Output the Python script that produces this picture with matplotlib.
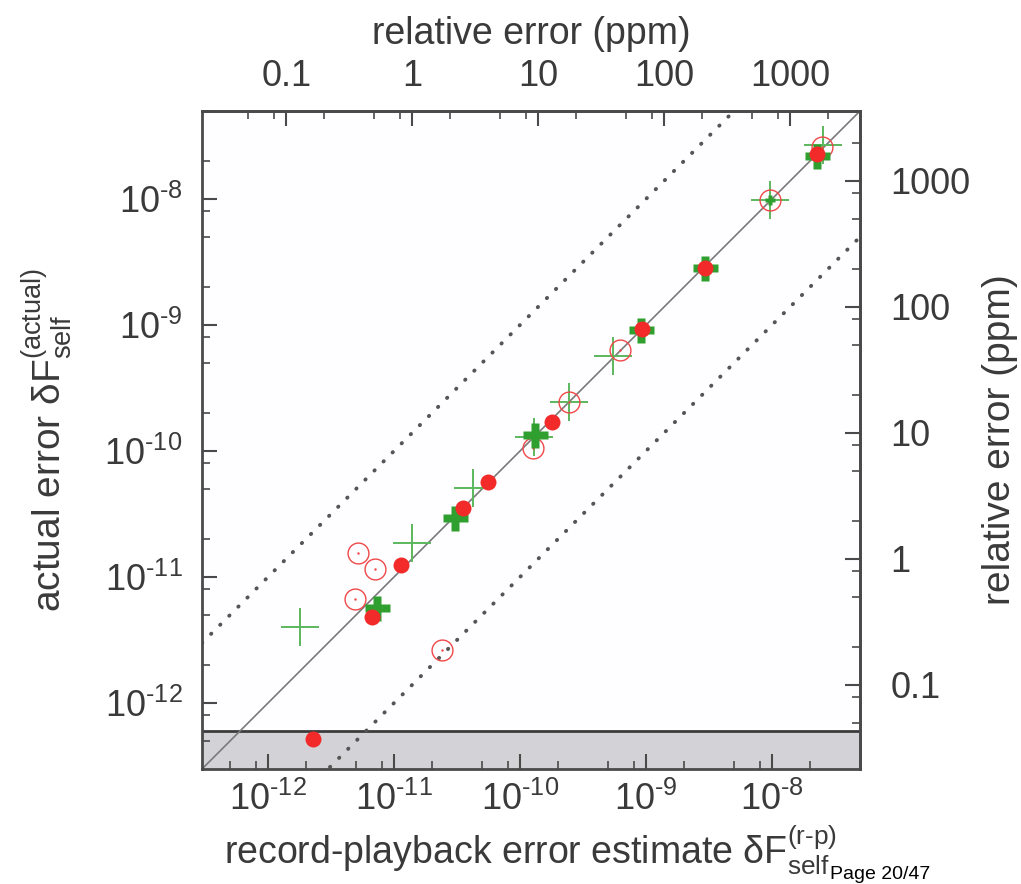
import numpy as np
import matplotlib
matplotlib.use('Agg')
import matplotlib.pyplot as plt
from matplotlib.ticker import LogLocator, NullFormatter, FixedLocator

plt.rcParams['font.family'] = ['Liberation Sans', 'DejaVu Sans']
plt.rcParams['mathtext.fontset'] = 'custom'
plt.rcParams['mathtext.rm'] = 'Liberation Sans'
plt.rcParams['mathtext.it'] = 'Liberation Sans'
plt.rcParams['mathtext.default'] = 'regular'

# estimate vs actual error
red_dot_x = [2.28e-12, 6.7e-12, 1.14e-11, 3.53e-11, 5.58e-11, 1.8e-10, 9.3e-10, 2.94e-9, 2.28e-8]
red_dot_y = [5.19e-13, 4.82e-12, 1.25e-11, 3.53e-11, 5.69e-11, 1.7e-10, 9.3e-10, 2.84e-9, 2.28e-8]

green_thick_x = [7.35e-12, 3.05e-11, 1.32e-10, 9.1e-10, 2.94e-9, 2.28e-8]
green_thick_y = [5.69e-12, 2.94e-11, 1.34e-10, 9.1e-10, 2.84e-9, 2.2e-8]

green_small_x = [9.66e-9]
green_small_y = [9.84e-9]

red_ring_x = [5.19e-12, 7.08e-12, 4.91e-12, 2.41e-11, 1.27e-10, 2.45e-10, 6.22e-10, 9.66e-9, 2.5e-8]
red_ring_y = [1.55e-11, 1.16e-11, 6.7e-12, 2.64e-12, 1.06e-10, 2.45e-10, 6.34e-10, 9.84e-9, 2.6e-8]

green_thin_x = [1.8e-12, 1.39e-11, 4.25e-11, 1.3e-10, 2.45e-10, 5.48e-10, 9.66e-9, 2.55e-8]
green_thin_y = [4.02e-12, 1.87e-11, 5.09e-11, 1.3e-10, 2.45e-10, 5.69e-10, 9.84e-9, 2.69e-8]

lim = [3e-13, 5e-8]
floor = 6e-13          # shaded region below this
F_ref = 1.4e-5         # converts absolute error to relative (ppm)
ppm_ticks = [0.1, 1, 10, 100, 1000]
ppm_labels = ['0.1', '1', '10', '100', '1000']
dec_ticks = [1e-12, 1e-11, 1e-10, 1e-9, 1e-8]
dec_labels = [r'$10^{\text{-}12}$', r'$10^{\text{-}11}$', r'$10^{\text{-}10}$',
              r'$10^{\text{-}9}$', r'$10^{\text{-}8}$']

txt = '#3a3a3a'
axc = '#4a4a4a'

fig = plt.figure(figsize=(10.21, 8.84), dpi=100)
ax = fig.add_axes([202 / 1021, 115 / 884, 658 / 1021, 658 / 884])
ax.set_facecolor('#fefdff')
ax.set_xscale('log')
ax.set_yscale('log')
ax.set_xlim(lim)
ax.set_ylim(lim)

ax.axhspan(lim[0], floor, color='#d3d3d7', zorder=0)
ax.axhline(floor, color='#3c3c3c', lw=2, zorder=1)

xx = np.array(lim)
ax.plot(xx, xx, color='#7a7a7a', lw=1.2, zorder=2)
for k in (10.0, 0.1):
    ax.plot(xx, xx * k, color='#555555', lw=2.8, linestyle=(0, (0.1, 3.2)),
            dash_capstyle='round', zorder=2)

ax.plot(green_thin_x, green_thin_y, '+', ms=28, mew=1.4, color='#5cb85c', zorder=3)
ax.plot(red_ring_x, red_ring_y, 'o', ms=15, mfc='none', mec='#f04848', mew=1.0, zorder=4)
ax.plot(red_ring_x, red_ring_y, '.', ms=1.5, color='#f04848', zorder=4)
ax.plot(green_thick_x, green_thick_y, 'P', ms=18, color='#2fa02f', mec='none', zorder=5)
ax.plot(green_small_x, green_small_y, 'P', ms=7, color='#2fa02f', mec='none', zorder=5)
ax.plot(red_dot_x, red_dot_y, 'o', ms=11.5, color='#f22a2a', mec='none', zorder=6)

for sp in ax.spines.values():
    sp.set_color(axc)
    sp.set_linewidth(2)

ax.xaxis.set_major_locator(FixedLocator(dec_ticks))
ax.yaxis.set_major_locator(FixedLocator(dec_ticks))
ax.set_xticklabels(dec_labels)
ax.set_yticklabels(dec_labels)
for a in (ax.xaxis, ax.yaxis):
    a.set_minor_locator(LogLocator(base=10, subs=[2, 5, 8]))
    a.set_minor_formatter(NullFormatter())
ax.tick_params(which='both', direction='in', top=False, right=False, colors=axc,
               labelcolor=txt, labelsize=26)
ax.tick_params(which='major', length=11, width=1.5)
ax.tick_params(which='minor', length=6, width=1.2)
ax.tick_params(axis='x', pad=9)
ax.tick_params(axis='y', pad=14)

ax.set_xlabel(r'record-playback error estimate $\delta F_{self}^{(r\text{-}p)}$',
              fontsize=27, color=txt, labelpad=4)
ax.set_ylabel(r'actual error $\delta F_{self}^{(actual)}$',
              fontsize=28, color=txt, labelpad=22)


def to_ppm(v):
    return v / F_ref * 1e6


def from_ppm(v):
    return v * F_ref / 1e6


secx = ax.secondary_xaxis('top', functions=(to_ppm, from_ppm))
secy = ax.secondary_yaxis('right', functions=(to_ppm, from_ppm))
for s, a in ((secx, secx.xaxis), (secy, secy.yaxis)):
    a.set_major_locator(FixedLocator(ppm_ticks))
    a.set_minor_locator(LogLocator(base=10, subs=[2, 5, 8]))
    a.set_minor_formatter(NullFormatter())
    s.tick_params(which='both', direction='in', colors=axc, labelcolor=txt, labelsize=26)
    s.tick_params(which='major', length=11, width=1.5)
    s.tick_params(which='minor', length=6, width=1.2)
    for sp in s.spines.values():
        sp.set_color(axc)
        sp.set_linewidth(2)
secx.set_xticklabels(ppm_labels)
secy.set_yticklabels(ppm_labels)
secx.tick_params(pad=12)
secy.tick_params(pad=22)
secx.set_xlabel('relative error (ppm)', fontsize=27, color=txt, labelpad=11)
secy.set_ylabel('relative error (ppm)', fontsize=28, color=txt, labelpad=8)

fig.text(830 / 1021, 1 - 866 / 884, 'Page 20/47', fontsize=14, color='black', va='top')

fig.savefig('out.png', dpi=100, facecolor='white')
